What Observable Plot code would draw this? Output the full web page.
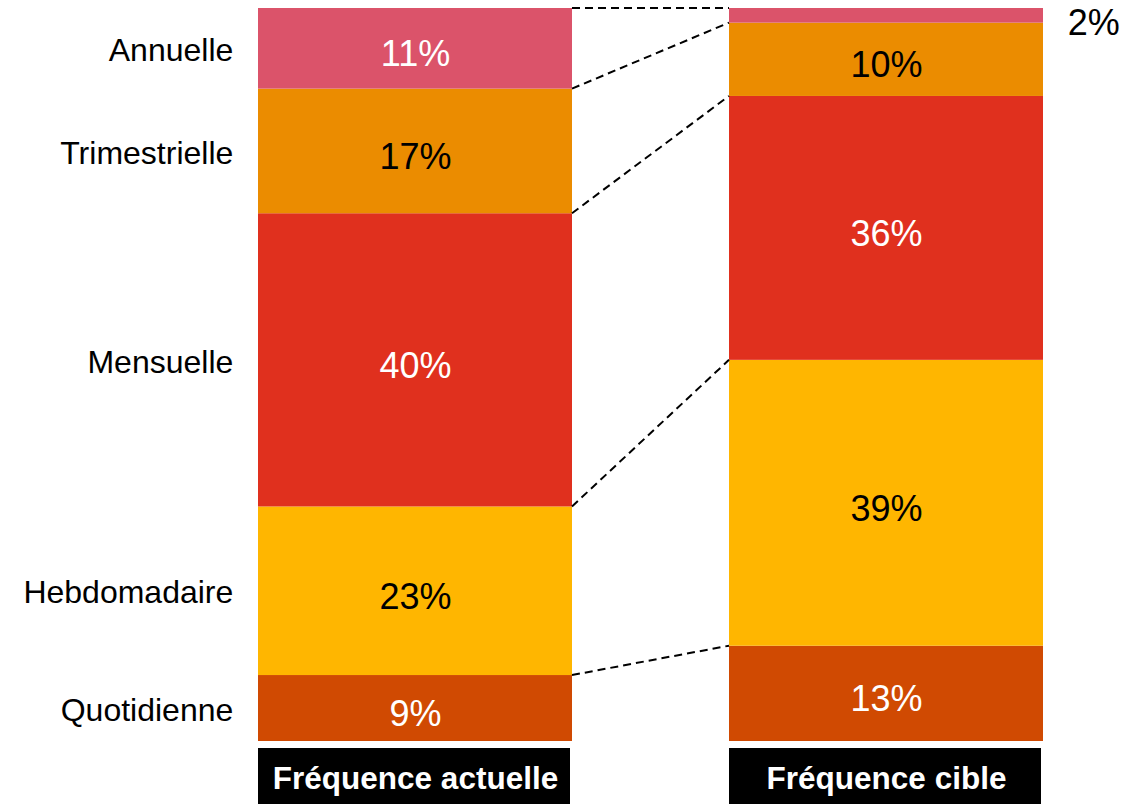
<!DOCTYPE html>
<html>
<head>
<meta charset="utf-8">
<script src="https://cdn.jsdelivr.net/npm/d3@7"></script>
<script src="https://cdn.jsdelivr.net/npm/@observablehq/plot@0.6"></script>
<style>
  html, body { margin: 0; padding: 0; background: #fff; }
  #chart svg { display: block; }
</style>
</head>
<body>
<div id="chart"></div>
<script>
const stages = ["Fréquence actuelle", "Fréquence cible"];
const categories = ["Quotidienne", "Hebdomadaire", "Mensuelle", "Trimestrielle", "Annuelle"]; // bottom → top
const actuelle = [9, 23, 40, 17, 11];
const cible = [13, 39, 36, 10, 2];
const colors = ["#D04A02", "#FFB600", "#E0301E", "#EB8C00", "#DB536A"];
const labelColors = ["#ffffff", "#000000", "#ffffff", "#000000", "#ffffff"];

const series = [actuelle, cible];
const rows = [];
stages.forEach((s, si) => {
  let cum = 0;
  categories.forEach((c, ci) => {
    const v = series[si][ci];
    rows.push({stage: s, cat: c, value: v, y1: cum, y2: cum + v, mid: cum + v / 2, ci});
    cum += v;
  });
});
const inside = rows.filter(d => d.value >= 5);
const outside = rows.filter(d => d.value < 5);
const leftRows = rows.filter(d => d.stage === stages[0]);

const W = 1137, H = 804;
const mTop = 8, mBottom = 63, mLeft = 257, mRight = 94;
const pxPerUnit = (H - mTop - mBottom) / 100;
const boxTop = -7 / pxPerUnit, boxBottom = -63 / pxPerUnit;
const barWidth = (W - mLeft - mRight) / (2 - 1/3) * (2/3);

const font = "'Liberation Sans', Arial, sans-serif";

const plot = Plot.plot({
  width: W,
  height: H,
  marginTop: mTop,
  marginBottom: mBottom,
  marginLeft: mLeft,
  marginRight: mRight,
  style: {fontFamily: font, background: "#fff"},
  x: {domain: stages, paddingInner: 1/3, paddingOuter: 0, axis: null},
  y: {domain: [0, 100], axis: null},
  color: {domain: categories, range: colors},
  marks: [
    Plot.rectY(rows, {x: "stage", y1: "y1", y2: "y2", fill: "cat"}),
    Plot.text(inside, {x: "stage", y: "mid", text: d => d.value + "%", fill: d => labelColors[d.ci], fontSize: 36, dy: 6}),
    Plot.text(outside, {x: "stage", y: "y1", text: d => d.value + "%", fill: "#000", fontSize: 36, textAnchor: "start", dx: barWidth / 2 + 24}),
    Plot.text(leftRows, {x: "stage", y: "mid", text: "cat", fill: "#000", fontSize: 32, textAnchor: "end", dx: -barWidth / 2 - 25, dy: 2}),
    Plot.rectY(stages, {x: d => d, y1: boxTop, y2: boxBottom, fill: "#000", insetLeft: 0, insetRight: 2}),
    Plot.text(stages, {x: d => d, y: (boxTop + boxBottom) / 2, text: d => d, fill: "#fff", fontSize: 31.5, fontWeight: "bold", dy: 2})
  ]
});

// dashed connectors between segment boundaries, positioned through Plot's scales
const xs = plot.scale("x"), ys = plot.scale("y");
const bw = xs.bandwidth;
const leftEdge = xs.apply(stages[0]) + bw;
const rightEdge = xs.apply(stages[1]);
const cumA = d3.cumsum(actuelle), cumB = d3.cumsum(cible);
d3.select(plot).append("g")
  .attr("stroke", "#000").attr("stroke-width", 2).attr("stroke-dasharray", "8,5").attr("fill", "none")
  .selectAll("line").data(d3.range(cumA.length)).join("line")
  .attr("x1", leftEdge).attr("x2", rightEdge)
  .attr("y1", i => ys.apply(cumA[i])).attr("y2", i => ys.apply(cumB[i]));

document.getElementById("chart").append(plot);
</script>
</body>
</html>
